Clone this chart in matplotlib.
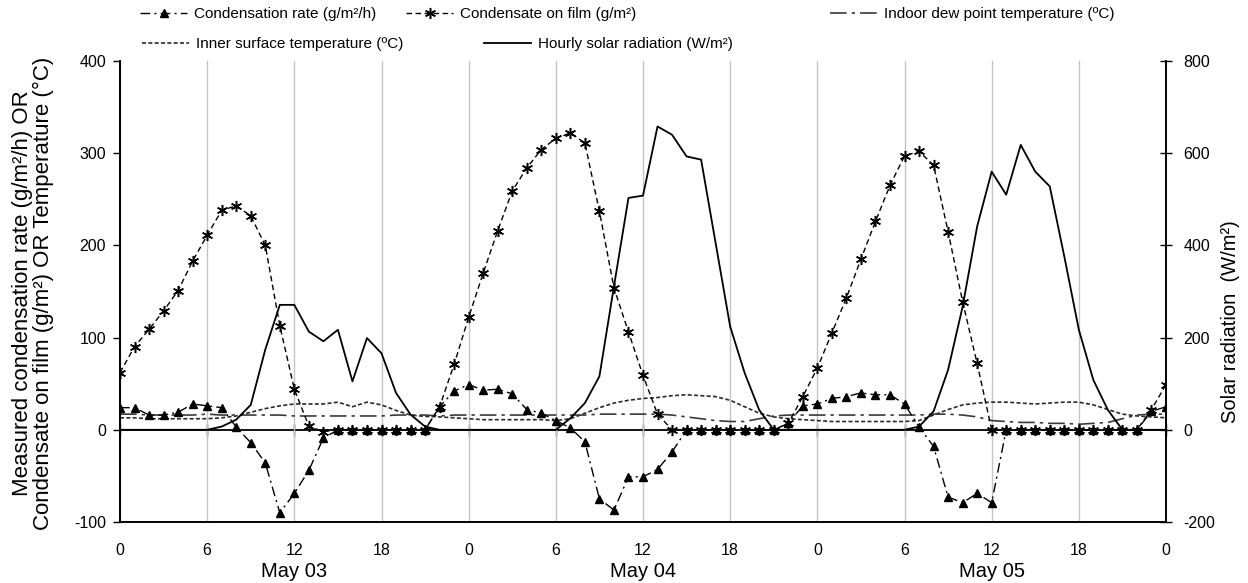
import matplotlib
matplotlib.use("Agg")
import matplotlib.pyplot as plt
import matplotlib.transforms as mtransforms
from matplotlib.lines import Line2D

plt.rcParams['font.family'] = ['Liberation Sans', 'DejaVu Sans']
plt.rcParams['axes.unicode_minus'] = False

# ---- data (hourly, 0 h of May 03 to 0 h of May 06) ----
hours = list(range(73))

condensation_rate = [24, 24, 16, 16, 19, 28, 26, 24, 3, -14, -36, -90, -69, -44, -9,
                     0, 0, 0, 0, 0, 0, 0,
                     25, 42, 49, 43, 44, 39, 22, 18, 10, 2, -13, -75, -87, -51, -51, -43, -24,
                     0, 0, 0, 0, 0, 0, 0,
                     7, 26, 28, 34, 36, 40, 38, 38, 28, 3, -18, -73, -79, -69, -79,
                     0, 0, 0, 0, 0, 0, 0, 0, 0, 0,
                     20, 25]

condensate_on_film = [62, 90, 109, 129, 151, 183, 211, 238, 243, 232, 200, 113, 44, 4, -2,
                      0, 0, 0, 0, 0, 0, 0,
                      25, 71, 122, 170, 216, 259, 284, 304, 316, 322, 311, 237, 154, 106, 59, 17, 0,
                      0, 0, 0, 0, 0, 0, 0,
                      7, 36, 67, 105, 143, 185, 226, 265, 297, 302, 287, 215, 139, 72, 0,
                      0, 0, 0, 0, 0, 0, 0, 0, 0, 0,
                      22, 49]

dew_point = [17, 17, 16, 16, 16, 16, 17, 16, 16, 16, 16, 16, 15, 15, 15, 15, 15, 15, 15,
             16, 16, 16,
             15, 16, 16, 16, 16, 16, 16, 16, 16, 16, 16, 17, 17, 17, 17, 17, 16, 14, 12, 10, 9, 9,
             12, 15,
             16, 16, 16, 16, 16, 16, 16, 16, 16, 16, 17, 17, 16, 14, 10, 9, 8, 8, 7, 7, 6, 7, 8,
             12, 16, 17, 17]

inner_surface = [13, 13, 12, 12, 12, 12, 12, 13, 15, 19, 23, 26, 28, 28, 28, 30, 25, 30, 27,
                 21, 16, 14.5, 14, 13,
                 12, 11, 11, 11, 11, 11, 10, 12, 18, 24, 29, 32, 34, 35, 37, 38, 37, 36, 32, 25,
                 18, 14, 12, 11,
                 10, 9, 9, 9, 9, 9, 9, 10, 16, 22, 27, 29, 30, 30, 29, 28, 29, 30, 30, 27, 22,
                 17, 15, 14, 13]

solar = [0, 0, 0, 0, 0, 0, 0, 7, 22, 54, 174, 271, 271, 213, 192, 217, 105, 199, 166,
         80, 33, 7, 0, 0,
         0, 0, 0, 0, 0, 0, 0, 25, 58, 116, 311, 503, 508, 658, 640, 593, 586, 405, 224, 123,
         43, 0, 0, 0,
         0, 0, 0, 0, 0, 0, 0, 7, 40, 130, 267, 441, 560, 510, 618, 560, 528, 376, 217, 108,
         43, 0, 0, 0, 0]

tick_hours = [0, 6, 12, 18, 24, 30, 36, 42, 48, 54, 60, 66, 72]
tick_labels = ['0', '6', '12', '18', '0', '6', '12', '18', '0', '6', '12', '18', '0']
day_labels = ['May 03', 'May 04', 'May 05']
day_centers = [12, 36, 60]
left_ticks = [-100, 0, 100, 200, 300, 400]
right_ticks = [-200, 0, 200, 400, 600, 800]

# ---- figure and axes ----
W, H = 1248, 583
fig = plt.figure(figsize=(W / 100, H / 100), dpi=100)
ax = fig.add_axes([120 / W, 1 - 522 / H, (1166 - 120) / W, (522 - 61) / H])
ax.set_xlim(0, 72)
ax.set_ylim(-100, 400)
ax2 = ax.twinx()
ax2.set_ylim(-200, 800)

for a in (ax, ax2):
    a.spines['top'].set_visible(False)
    for s in ('left', 'right', 'bottom'):
        a.spines[s].set_linewidth(1.2)
        a.spines[s].set_color('black')

ax.set_xticks(tick_hours)
ax.set_xticklabels(tick_labels)
ax.tick_params(axis='x', length=0, pad=15, labelsize=11.5)
ax.grid(axis='x', color='#c4c4c4', lw=1)
ax.set_axisbelow(True)

ax.set_yticks(left_ticks)
ax.tick_params(axis='y', direction='out', length=5, width=1, pad=5, labelsize=11.5)
ax2.set_yticks(right_ticks)
ax2.tick_params(axis='y', direction='inout', length=9, width=1, pad=8, labelsize=11.5)

# horizontal axis line through zero with hour ticks
zero_frac = (0 - (-100)) / 500
sec = ax.secondary_xaxis(zero_frac)
sec.set_xticks(tick_hours)
sec.set_xticklabels([])
sec.tick_params(direction='inout', length=8, width=1)
sec.spines['bottom'].set_linewidth(1.3)

trans = mtransforms.blended_transform_factory(ax.transData, ax.transAxes)
for h, lab in zip(day_centers, day_labels):
    ax.text(h, -0.107, lab, transform=trans, ha='center', va='center', fontsize=14.5)

# ---- series ----
rate_style = dict(color='black', lw=1, dashes=(7, 3, 1.5, 3), marker='^', ms=5.8,
                  mfc='black', mec='black')
film_style = dict(color='black', lw=1, dashes=(4, 2.5), marker=(6, 2, 0), ms=8, mew=1.1,
                  mec='black')
dew_style = dict(color='#3a3a3a', lw=1.2, dashes=(10, 3, 2, 3))
surf_style = dict(color='#2a2a2a', lw=1.2, dashes=(2.4, 1.4))
solar_style = dict(color='black', lw=1.3)

ax.plot(hours, inner_surface, **surf_style)
ax.plot(hours, dew_point, **dew_style)
ax.plot(hours, condensate_on_film, **film_style)
ax.plot(hours, condensation_rate, **rate_style)
ax2.plot(hours, solar, **solar_style)

# ---- axis titles ----
fig.text(33 / W, 1 - 293 / H,
         "Measured condensation rate (g/m\u00b2/h) OR\nCondensate on film (g/m\u00b2) OR Temperature (\u00b0C)",
         rotation=90, ha='center', va='center', fontsize=16, linespacing=0.95)
fig.text(1231 / W, 1 - 322 / H, "Solar radiation  (W/m\u00b2)", rotation=90,
         ha='center', va='center', fontsize=14.5)

# ---- legend entries ----
entries = [
    (Line2D([], [], **rate_style), "Condensation rate (g/m\u00b2/h)", 140, 14),
    (Line2D([], [], **film_style), "Condensate on film (g/m\u00b2)", 406, 14),
    (Line2D([], [], **dew_style), "Indoor dew point temperature (\u00baC)", 830, 14),
    (Line2D([], [], **surf_style), "Inner surface temperature (\u00baC)", 142, 44),
    (Line2D([], [], **solar_style), "Hourly solar radiation (W/m\u00b2)", 484, 44),
]
for handle, label, xp, yp in entries:
    fig.legend([handle], [label], loc='center left', bbox_to_anchor=(xp / W, 1 - yp / H),
               frameon=False, borderpad=0, borderaxespad=0, handlelength=3.1,
               handletextpad=0.45, numpoints=1, fontsize=11)

fig.savefig("out.png", dpi=100)
